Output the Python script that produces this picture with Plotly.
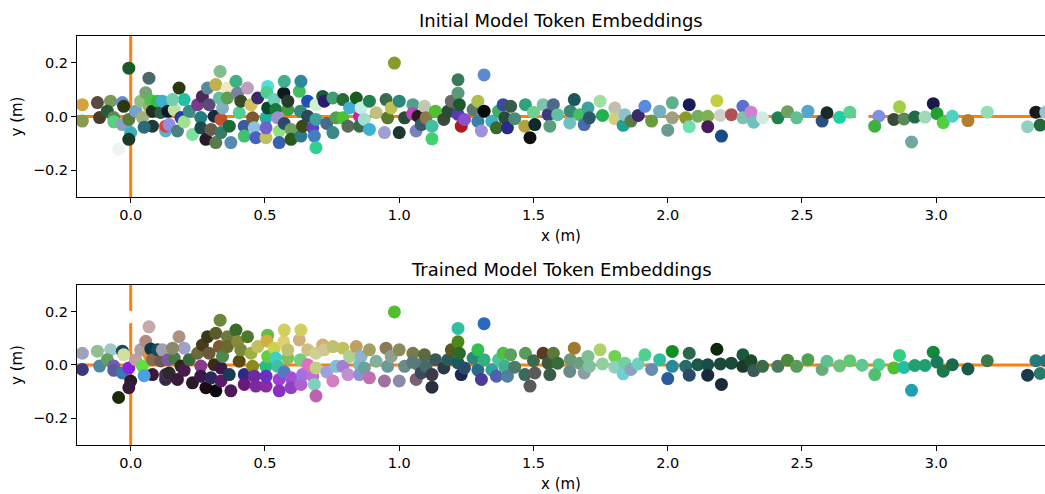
import plotly.graph_objects as go

# ---------------- data ----------------
x_values = [
    -0.18, -0.18, -0.116, -0.124, -0.075, -0.087, -0.063, -0.063, -0.031, -0.026,
    -0.031, -0.007, -0.007, 0.0, -0.007, 0.019, 0.044, 0.037, 0.056, 0.068,
    0.068, 0.075, 0.081, 0.081, 0.05, 0.1, 0.112, 0.118, 0.13, 0.13,
    0.143, 0.139, 0.162, 0.174, 0.18, 0.187, 0.199, 0.199, 0.156, 0.218,
    0.23, 0.249, 0.267, 0.261, 0.261, 0.28, 0.286, 0.292, 0.299, 0.311,
    0.317, 0.317, 0.33, 0.333, 0.336, 0.336, 0.342, 0.36, 0.36, 0.367,
    0.373, 0.392, 0.398, 0.404, 0.41, 0.423, 0.423, 0.435, 0.448, 0.454,
    0.46, 0.466, 0.473, 0.504, 0.504, 0.504, 0.51, 0.507, 0.51, 0.535,
    0.54, 0.547, 0.553, 0.553, 0.57, 0.572, 0.572, 0.585, 0.585, 0.597,
    0.597, 0.628, 0.634, 0.632, 0.634, 0.64, 0.659, 0.659, 0.678, 0.684,
    0.69, 0.69, 0.69, 0.715, 0.721, 0.73, 0.753, 0.753, 0.765, 0.79,
    0.79, 0.809, 0.815, 0.84, 0.852, 0.852, 0.858, 0.87, 0.889, 0.889,
    0.914, 0.945, 0.951, 0.957, 0.97, 0.982, 1.0, 1.0, 1.02, 1.051,
    1.05, 1.063, 1.07, 1.082, 1.094, 1.1, 1.122, 1.122, 1.135, 1.166,
    1.182, 1.194, 1.219, 1.219, 1.219, 1.224, 1.231, 1.243, 1.275, 1.293,
    1.293, 1.306, 1.316, 1.316, 1.345, 1.37, 1.362, 1.387, 1.393, 1.403,
    1.415, 1.43, 1.468, 1.47, 1.487, 1.5, 1.505, 1.536, 1.555, 1.561,
    1.574, 1.59, 1.635, 1.637, 1.652, 1.672, 1.689, 1.703, 1.708, 1.748,
    1.757, 1.803, 1.803, 1.834, 1.84, 1.863, 1.89, 1.915, 1.94, 1.97,
    2.0, 2.017, 2.017, 2.067, 2.08, 2.08, 2.112, 2.149, 2.149, 2.183,
    2.196, 2.2, 2.237, 2.28, 2.28, 2.31, 2.32, 2.353, 2.41, 2.446,
    2.48, 2.522, 2.575, 2.593, 2.64, 2.678, 2.724, 2.786, 2.771, 2.842,
    2.863, 2.88, 2.908, 2.92, 2.958, 2.989, 3.003, 3.026, 3.06, 3.118,
    3.19, 3.34, 3.371, 3.387, 3.408, -0.045,
]
y_values = [
    0.044, -0.017, -0.004, 0.052, 0.057, 0.02, -0.004, -0.02, 0.052, 0.038,
    -0.03, 0.18, -0.011, -0.06, -0.085, 0.02, -0.004, 0.057, 0.089, 0.143,
    0.038, 0.06, 0.02, -0.036, -0.04, 0.057, 0.015, 0.057, -0.054, -0.036,
    -0.03, 0.02, 0.026, -0.054, 0.106, -0.004, 0.063, -0.02, 0.063, 0.02,
    -0.067, 0.044, 0.075, -0.004, -0.042, -0.085, 0.106, 0.044, -0.048, 0.001,
    0.119, -0.097, 0.069, 0.168, -0.011, -0.06, 0.032, 0.106, 0.069, -0.036,
    -0.097, 0.131, 0.087, 0.014, 0.057, -0.036, -0.073, 0.106, 0.044, -0.005,
    -0.042, -0.079, 0.069, -0.079, -0.005, -0.042, 0.112, 0.09, 0.032, 0.063,
    0.026, -0.005, -0.054, -0.097, 0.087, 0.131, -0.026, 0.026, 0.057, -0.048,
    -0.085, 0.094, 0.131, 0.02, -0.073, -0.036, 0.057, 0.001, -0.042, -0.073,
    0.044, -0.116, -0.011, 0.075, 0.057, -0.026, -0.06, 0.069, -0.005, 0.063,
    -0.005, -0.036, 0.032, 0.069, 0.001, -0.036, 0.032, -0.011, 0.057, -0.048,
    0.014, -0.06, 0.063, -0.005, 0.032, 0.199, 0.057, -0.06, -0.005, 0.044,
    0.01, -0.054, 0.001, -0.03, 0.038, -0.005, -0.036, -0.083, 0.02, -0.011,
    0.02, 0.057, 0.137, 0.087, 0.008, 0.044, -0.036, -0.011, 0.026, 0.057,
    -0.018, -0.054, 0.155, 0.02, -0.018, 0.02, -0.042, 0.044, -0.005, -0.042,
    0.038, -0.008, -0.036, 0.044, -0.079, 0.016, -0.03, 0.044, 0.007, -0.036,
    0.044, 0.007, -0.024, 0.02, 0.063, 0.007, -0.03, 0.032, -0.005, 0.057,
    0.004, 0.032, -0.008, -0.033, 0.007, -0.017, 0.004, 0.038, -0.017, 0.02,
    -0.051, 0.051, -0.005, -0.005, 0.044, -0.038, 0.001, 0.001, -0.038, 0.059,
    0.004, -0.073, 0.007, 0.038, -0.005, 0.016, -0.021, -0.005, -0.005, 0.018,
    -0.005, 0.02, -0.017, 0.014, -0.003, 0.016, -0.001, 0.001, -0.036, -0.011,
    0.036, -0.009, -0.095, -0.002, -0.002, 0.048, 0.011, -0.023, 0.001, -0.015,
    0.016, -0.038, 0.016, -0.032, 0.016, -0.122,
]
initial_colors = [
    "#d4a43a", "#8a9a50", "#4a3a2a", "#5a4a40", "#7a9a5a", "#2a5a3a", "#5a8a5a", "#5ad080", "#6a8ad0", "#2a3a10",
    "#8aa0c0", "#1a5a2a", "#5a7a3a", "#3ab0c0", "#1a3a2a", "#7aa0d0", "#a0b080", "#90c080", "#7aa07a", "#4a6a6a",
    "#a0b060", "#50c050", "#203020", "#203a3a", "#2a6a7a", "#30c040", "#2a5a4a", "#40b0d0", "#5ab0d0", "#e04040",
    "#9090e0", "#0a1a2a", "#c0e0a0", "#4a8080", "#2a3a10", "#2a3aa0", "#20c0a0", "#a0e090", "#70d0b0", "#3a8a8a",
    "#80e0a0", "#7a3a8a", "#4a2a5a", "#208080", "#1a4a4a", "#2a1a2a", "#5a8a9a", "#5a4a7a", "#6a5a4a", "#1a2a3a",
    "#c0b050", "#5a7a4a", "#60c0a0", "#80c090", "#c05030", "#3a7a6a", "#80b0c0", "#f0e8c0", "#5aa050", "#1a6a3a",
    "#5a8ab0", "#40b080", "#7a80a0", "#50d090", "#3a4a2a", "#3a5aa0", "#40c070", "#c0a0c0", "#d0c060", "#7a5a30",
    "#90c0e0", "#4a60c0", "#3a2a6a", "#c0c060", "#20b0a0", "#7060d0", "#50e0e0", "#50d090", "#0a4a2a", "#70d0c0",
    "#1a7a3a", "#a090d0", "#90e080", "#3a60b0", "#0a1a1a", "#40b090", "#2a4a6a", "#40a040", "#2a3a2a", "#70a060",
    "#2a5a1a", "#40c060", "#2a8a9a", "#3a8a7a", "#2a7a8a", "#3a4a10", "#2050b0", "#2a4a5a", "#6040c0", "#4080c0",
    "#d0f0d0", "#30d090", "#40a0a0", "#1a5a3a", "#2a1a6a", "#4a6a8a", "#3a8a8a", "#40a070", "#50a050", "#2a6a3a",
    "#50c030", "#5a6a5a", "#40b0d0", "#1a5a1a", "#d020a0", "#3a6a4a", "#c0f0e0", "#a0e0d0", "#208050", "#40b0d0",
    "#c0c080", "#a0a0d0", "#3a6a4a", "#5a7a2a", "#c0c050", "#8a9a2a", "#2a8a7a", "#1a3a30", "#2a4a3a", "#50a090",
    "#c040c0", "#7a80c0", "#2a1a1a", "#3a5a6a", "#c0c8b0", "#8a7a4a", "#40c0a0", "#40d070", "#50c030", "#3a4a3a",
    "#2a4a3a", "#6a6a6a", "#3a7a5a", "#5a9a7a", "#5a3ab0", "#1a5a2a", "#b01a1a", "#8a50d0", "#5a7a6a", "#b0c050",
    "#3a80a0", "#a090e0", "#5a8ad0", "#0a0a0a", "#40b0c0", "#40b060", "#3a6a2a", "#3a4aa0", "#2a4a3a", "#2a2a8a",
    "#3a5a4a", "#4a8a7a", "#b0a040", "#30a080", "#101010", "#70d090", "#102a2a", "#80c0b0", "#3a3a80", "#5aa080",
    "#4a6a8a", "#60c0a0", "#70c0c0", "#3a8a7a", "#1a5a5a", "#40c060", "#4a6ab0", "#40a0a0", "#2a5a6a", "#a0e0a0",
    "#20b050", "#c0c0b0", "#d0d080", "#20a090", "#90c0d0", "#5a7a4a", "#3a2a6a", "#5a8ae0", "#6a9a3a", "#70b0c0",
    "#6a9a90", "#60b090", "#a0a080", "#8a9a2a", "#1a1a5a", "#70e0b0", "#70b060", "#80b050", "#4a1a5a", "#c0d040",
    "#d0d0c8", "#1a4a8a", "#b05050", "#5a70d0", "#80c0b0", "#d080d0", "#70c0c0", "#d0ece0", "#208050", "#70a060",
    "#60c090", "#50a8d0", "#2a5080", "#1a2a2a", "#20d0a0", "#60d090", "#ffffff", "#8090e0", "#40b040", "#3a4a3a",
    "#a0d040", "#5a8a5a", "#70a8a0", "#206a4a", "#a0d8b8", "#1a1a4a", "#20a030", "#50d040", "#50d0c0", "#b08030",
    "#90e0b0", "#90d0c0", "#1a1a1a", "#206a3a", "#a0c0d0", "#f0f4f0",
]
trained_colors = [
    "#a0a0c0", "#3a3a7a", "#4a8aa0", "#90c090", "#a0c8c8", "#60a060", "#7a5ab0", "#5a5aa0", "#1a4a5a", "#d0e0a0",
    "#3a7ab0", "#ffffff", "#8a20e0", "#2a1a2a", "#3a1a3a", "#c0a0a0", "#60e040", "#b0a0a0", "#b08a80", "#c8a8a8",
    "#e09040", "#0a3a4a", "#8a6a4a", "#3a1a3a", "#4aa0e0", "#1a4a5a", "#6a5a50", "#a0a0b0", "#3a2a4a", "#4a2a4a",
    "#2a2a2a", "#7a5aa0", "#4a7a4a", "#3a1a3a", "#b09080", "#2a2a1a", "#a0a0c8", "#4a1a4a", "#8a8a6a", "#3a6a3a",
    "#2a1a2a", "#6a6a3a", "#4a3a20", "#8a3a8a", "#3a1a4a", "#1a0a1a", "#3a3a1a", "#6a5a3a", "#2a2a5a", "#3a2a10",
    "#5a5a2a", "#0a0a10", "#7a5a30", "#6a8a3a", "#3a1a4a", "#5a1a6a", "#4a8a4a", "#6a7a3a", "#6a6a2a", "#1a3a5a",
    "#4a1a5a", "#3a6a2a", "#8a8a3a", "#5a4a10", "#7a8a3a", "#2a2a8a", "#6a1a7a", "#4a7a2a", "#a0b040", "#8a8a20",
    "#6a2aa0", "#7a2a9a", "#c0c060", "#8a2aa0", "#20c080", "#6a30c0", "#60c040", "#d0b040", "#60d040", "#d0d050",
    "#40d0c0", "#40c0a0", "#a040d0", "#8a30c0", "#e0d070", "#d0d060", "#4a80c0", "#80c060", "#c0c070", "#a050d0",
    "#9040c0", "#d0b080", "#d0d060", "#70d080", "#b060d0", "#a070e0", "#d0c080", "#e070c0", "#c070d0", "#80d0c0",
    "#d0d090", "#c060b0", "#c0d080", "#d0b070", "#d0c890", "#a0a0e0", "#d080c0", "#c0c070", "#80c0d0", "#c0c060",
    "#a080d0", "#c090d0", "#b0d090", "#c0a060", "#70c0c0", "#9090d0", "#90b0d0", "#6aa0a0", "#a0a060", "#c070b0",
    "#80b0a0", "#a070a0", "#8a7a5a", "#6a9a9a", "#90a090", "#50c030", "#8a8a5a", "#8a8aaa", "#6a8a8a", "#7a7a4a",
    "#5a7a7a", "#7a6070", "#5a7a7a", "#3a4a5a", "#5a6a3a", "#4a6a6a", "#3a3a4a", "#2a3040", "#3a5a5a", "#2a3a4a",
    "#2a5a5a", "#5a5a1a", "#30c0a0", "#4a8a1a", "#1a5a5a", "#2a6a2a", "#1a2a4a", "#2a4a6a", "#2a8a7a", "#30c050",
    "#2a6a8a", "#4a3a9a", "#2a6ac0", "#30b080", "#30a0a0", "#50c0a0", "#5060b0", "#50c040", "#40b090", "#5080a0",
    "#5aa060", "#4a7a6a", "#3a6a5a", "#5a9a5a", "#5a5a5a", "#3a6a4a", "#5a5a5a", "#5a3a20", "#3a5a3a", "#3a5a4a",
    "#5a7a3a", "#3a6a3a", "#6a8a8a", "#6a9a7a", "#a07a30", "#6aa080", "#8aa0a0", "#80c090", "#80c0a0", "#b0d070",
    "#90d0a0", "#70d050", "#90d0c0", "#70d0d0", "#70d0a0", "#90a0c0", "#70d0c0", "#50d090", "#6a8ab0", "#30c0a0",
    "#2a5aa0", "#109020", "#2a8a9a", "#2a6a6a", "#2a6a4a", "#2a4a6a", "#1a5a4a", "#1a4a4a", "#1a2a3a", "#0a2a0a",
    "#1a4a3a", "#1a2a3a", "#1a4a3a", "#1a5a3a", "#1a3a2a", "#1a4a2a", "#3a5a5a", "#3a6a4a", "#4a7a5a", "#4a8a3a",
    "#5a9a5a", "#50a050", "#6aaa7a", "#60c090", "#70c080", "#60c870", "#60c890", "#50d090", "#50c070", "#50c030",
    "#30d080", "#20c0a0", "#20a0b0", "#20a070", "#20a070", "#108a3a", "#1a7a5a", "#1a7a4a", "#1a6a4a", "#1a5a4a",
    "#3a7a4a", "#1a3a4a", "#2a7a7a", "#2a7a6a", "#2a7080", "#1a2a0a",
]
panel_titles = ["Initial Model Token Embeddings", "Trained Model Token Embeddings"]
x_label = "x (m)"
y_label = "y (m)"
x_ticks = [0.0, 0.5, 1.0, 1.5, 2.0, 2.5, 3.0]
y_ticks = [-0.2, 0.0, 0.2]
x_range = [-0.2, 3.405]
y_range = [-0.3, 0.3]

W, H = 1045, 494
ML = 77
ORANGE = "#ff7f0e"
FONT = "DejaVu Sans"

fig = go.Figure()
panels = [
    ("x", "y", initial_colors, [0.6012, 0.9271]),
    ("x2", "y2", trained_colors, [0.0992, 0.4231]),
]
for i, (xa, ya, cols, dom) in enumerate(panels):
    fig.add_trace(go.Scatter(
        x=x_values, y=y_values, mode="markers", xaxis=xa, yaxis=ya,
        marker=dict(color=cols, size=13, line=dict(width=0), opacity=1),
        showlegend=False, hoverinfo="skip"))
    sfx = "" if i == 0 else "2"
    axis_common = dict(showgrid=False, zeroline=False, showline=True, linecolor="black",
                       linewidth=1, ticks="outside", ticklen=5, tickwidth=1, automargin=False,
                       tickcolor="black", tickfont=dict(family=FONT, size=14.5, color="black"))
    fig.update_layout(**{
        "xaxis" + sfx: dict(domain=[0, 1], anchor="y" + sfx, range=x_range, tickvals=x_ticks,
                             tickformat=".1f", mirror=True,
                             title=dict(text=x_label, font=dict(family=FONT, size=15, color="black"),
                                        standoff=8), **axis_common),
        "yaxis" + sfx: dict(domain=dom, anchor="x" + sfx, range=y_range, tickvals=y_ticks,
                             tickformat=".1f", mirror=False, **axis_common),
    })
    fig.add_annotation(text=panel_titles[i], xref="paper", yref="paper", x=0.5, y=dom[1],
                       xanchor="center", yanchor="bottom", yshift=3, showarrow=False,
                       font=dict(family=FONT, size=18, color="black"))
    fig.add_annotation(text=y_label, xref="paper", yref="paper",
                       x=(17 - ML) / (W - ML), y=(dom[0] + dom[1]) / 2,
                       xanchor="center", yanchor="middle", textangle=-90, showarrow=False,
                       font=dict(family=FONT, size=15, color="black"))
    # zero reference lines drawn beneath the markers
    fig.add_shape(type="line", xref="x" + sfx + " domain", yref="y" + sfx, x0=0, x1=1, y0=0, y1=0,
                  line=dict(color=ORANGE, width=3), layer="below")
    fig.add_shape(type="line", xref="x" + sfx, yref="y" + sfx + " domain", x0=0, x1=0, y0=0, y1=1,
                  line=dict(color=ORANGE, width=3), layer="below")

fig.update_layout(width=W, height=H, margin=dict(l=ML, r=0, t=0, b=0, autoexpand=False),
                  paper_bgcolor="white", plot_bgcolor="white",
                  font=dict(family=FONT, color="black"), showlegend=False)
fig.write_html("out.html", config={"displayModeBar": False},
               post_script="document.body.style.margin='0';document.body.style.overflow='hidden';")
